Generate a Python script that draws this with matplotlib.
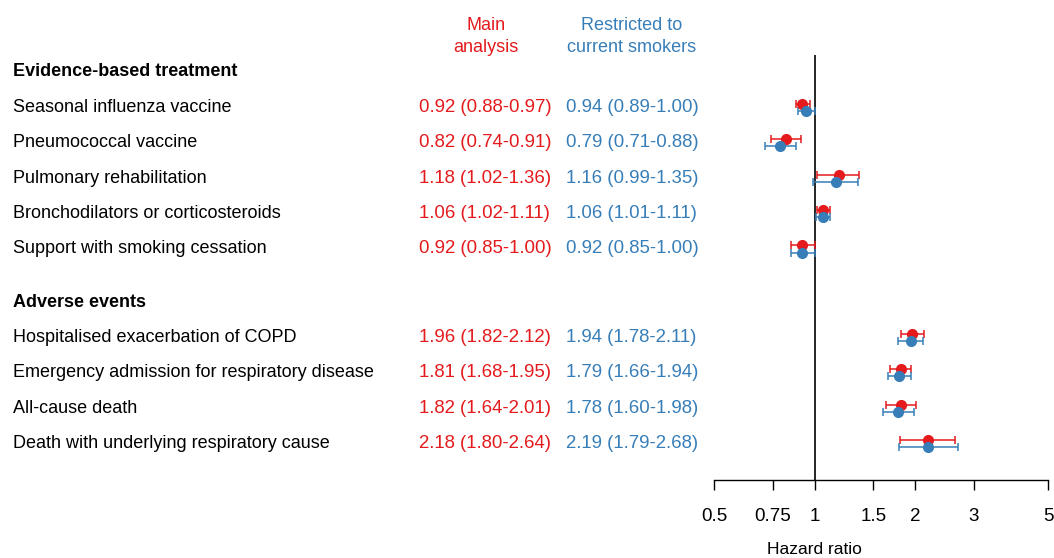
import matplotlib
matplotlib.use("Agg")
import matplotlib.pyplot as plt
from matplotlib.transforms import blended_transform_factory
import numpy as np

plt.rcParams['font.family'] = ['Liberation Sans', 'DejaVu Sans']

groups = ["Evidence-based treatment", "Adverse events"]
outcomes = [
    "Seasonal influenza vaccine",
    "Pneumococcal vaccine",
    "Pulmonary rehabilitation",
    "Bronchodilators or corticosteroids",
    "Support with smoking cessation",
    "Hospitalised exacerbation of COPD",
    "Emergency admission for respiratory disease",
    "All-cause death",
    "Death with underlying respiratory cause",
]
outcome_group = [0, 0, 0, 0, 0, 1, 1, 1, 1]

main_hr = [0.92, 0.82, 1.18, 1.06, 0.92, 1.96, 1.81, 1.82, 2.18]
main_lo = [0.88, 0.74, 1.02, 1.02, 0.85, 1.82, 1.68, 1.64, 1.80]
main_hi = [0.97, 0.91, 1.36, 1.11, 1.00, 2.12, 1.95, 2.01, 2.64]

smk_hr = [0.94, 0.79, 1.16, 1.06, 0.92, 1.94, 1.79, 1.78, 2.19]
smk_lo = [0.89, 0.71, 0.99, 1.01, 0.85, 1.78, 1.66, 1.60, 1.79]
smk_hi = [1.00, 0.88, 1.35, 1.11, 1.00, 2.11, 1.94, 1.98, 2.68]

xticks = [0.5, 0.75, 1, 1.5, 2, 3, 5]
xtick_labels = ["0.5", "0.75", "1", "1.5", "2", "3", "5"]

RED = "#e41a1c"
BLUE = "#377eb8"

W, H = 1054, 558
fig = plt.figure(figsize=(W / 100, H / 100), dpi=100)

# Forest panel placed in pixel coordinates
left_px, right_px, top_px, bottom_px = 714, 1048, 55, 480
ax = fig.add_axes([left_px / W, 1 - bottom_px / H,
                   (right_px - left_px) / W, (bottom_px - top_px) / H])

# Row layout: group header, then its outcomes; half-row gap between groups
row_y = []
header_y = []
y = 0.0
prev = None
for g in outcome_group:
    if g != prev:
        if prev is not None:
            y += 0.5
        header_y.append(y)
        y += 1
        prev = g
    row_y.append(y)
    y += 1
row_y = np.array(row_y)

unit_px = 35.4
first_px = 72
ax.set_ylim((bottom_px - first_px) / unit_px, -(first_px - top_px) / unit_px)
ax.set_xscale("log")
ax.set_xlim(0.5, 5)

off = 0.1
mh, ml, mu = map(np.array, (main_hr, main_lo, main_hi))
sh, sl, su = map(np.array, (smk_hr, smk_lo, smk_hi))
ax.errorbar(mh, row_y - off, xerr=[mh - ml, mu - mh], fmt="o", color=RED,
            ms=7, elinewidth=1.1, capsize=3, capthick=1.1, zorder=3)
ax.errorbar(sh, row_y + off, xerr=[sh - sl, su - sh], fmt="o", color=BLUE,
            ms=7, elinewidth=1.1, capsize=3, capthick=1.1, zorder=3)

ax.axvline(1, color="black", lw=1.2, zorder=1)

for s in ["top", "right", "left"]:
    ax.spines[s].set_visible(False)
ax.spines["bottom"].set_linewidth(1.0)
ax.set_yticks([])
ax.set_xticks(xticks)
ax.set_xticklabels(xtick_labels)
ax.xaxis.set_minor_locator(matplotlib.ticker.NullLocator())
ax.tick_params(axis="x", direction="out", length=7.5, width=1.0,
               labelsize=13.5, pad=13)

# Axis title centred under the null line
ax.text(1, -70 / (bottom_px - top_px), "Hazard ratio",
        transform=ax.get_xaxis_transform(), fontsize=12.5,
        ha="center", va="center")

# Text columns: x in figure pixels, y in row units
tr = blended_transform_factory(fig.transFigure, ax.transData)
fs = 13
fs_val = 13.4
for gy, name in zip(header_y, groups):
    fig.text(13 / W, gy, name, transform=tr, fontsize=fs, fontweight="bold",
             va="center", ha="left")
for i, name in enumerate(outcomes):
    yy = row_y[i]
    fig.text(13 / W, yy, name, transform=tr, fontsize=fs, va="center", ha="left")
    fig.text(419 / W, yy, f"{main_hr[i]:.2f} ({main_lo[i]:.2f}-{main_hi[i]:.2f})",
             transform=tr, fontsize=fs_val, va="center", ha="left", color=RED)
    fig.text(566 / W, yy, f"{smk_hr[i]:.2f} ({smk_lo[i]:.2f}-{smk_hi[i]:.2f})",
             transform=tr, fontsize=fs_val, va="center", ha="left", color=BLUE)

fig.text(486 / W, 1 - 36.5 / H, "Main\nanalysis", fontsize=fs, color=RED,
         ha="center", va="center", linespacing=1.42)
fig.text(632 / W, 1 - 36.5 / H, "Restricted to\ncurrent smokers", fontsize=fs,
         color=BLUE, ha="center", va="center", linespacing=1.42)

fig.savefig("out.png", dpi=100)
